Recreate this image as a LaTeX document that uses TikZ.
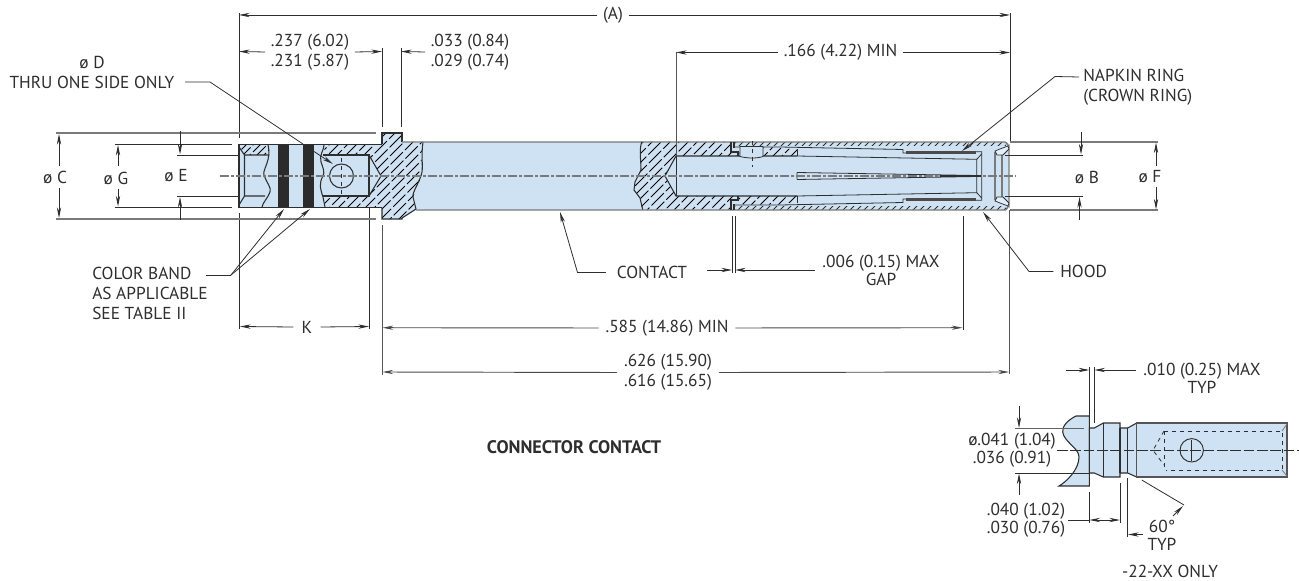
\documentclass[tikz,border=0pt]{standalone}
\usepackage{fontspec}
\setmainfont{PT Sans}
\usetikzlibrary{arrows.meta}
\definecolor{bodyblue}{HTML}{CFE2F3}
\definecolor{ink}{HTML}{2E2E2E}
\definecolor{midgray}{HTML}{7A7A7A}
\definecolor{bandc}{HTML}{2B2B2B}
\tikzset{
  txt/.style={inner sep=0pt,text=ink,align=center,font=\fontsize{13}{15}\selectfont},
  tight/.style={txt,font=\fontsize{13}{13.6}\selectfont},
  lft/.style={txt,align=left},
  thinl/.style={draw=ink,line width=0.6pt},
  grayl/.style={draw=midgray,line width=1.1pt},
  outl/.style={draw=ink,line width=0.8pt},
  finel/.style={draw=ink,line width=0.6pt},
  dim/.style={thinl,-{Stealth[length=8pt,width=3.2pt]}},
  graydim/.style={draw=midgray!60!black,line width=0.7pt,-{Stealth[length=8pt,width=3.2pt]}},
  hatchl/.style={draw=black,line width=0.62pt,dash pattern=on 13pt off 2.2pt},
  center/.style={draw=midgray,line width=1pt,dash pattern=on 7pt off 1.5pt on 2pt off 1.5pt},
}
\newcommand{\hatchrange}[4]{\begin{scope}\clip #1;\foreach \c in {#2,#3,...,#4}{\draw[hatchl,dash phase=\c pt] (\c,240)--({\c+120},120);}\end{scope}}
\begin{document}
\begin{tikzpicture}[x=0.75pt,y=-0.75pt]
\useasboundingbox (0,0) rectangle (1299,581);
% ---------- body fill
\fill[bodyblue] (239,144.5)--(382,144.5)--(382,133)--(402,133)--(402,142)--(1005,142)
  to[out=0,in=-90] (1009,146)--(1009,206) to[out=90,in=0] (1005,210)--(416,210)--(402,219)--(382,219)--(382,207.5)--(239,207.5)--cycle;
% ---------- hatching
\hatchrange{(239,144.5)--(268,144.5)--(270,155)--(244.5,155)--cycle}{130}{137}{200}
\hatchrange{(239,207.5)--(262,207.5)--(265,196)--(244.5,196)--cycle}{20}{27}{60}
\hatchrange{(324,144.5)--(382,144.5)--(382,133)--(402,133)--(402,142)--(423,142)--(421,170)--(422,176)--(416,190)--(413,197)--(416,209)--(402,219)--(382,219)--(382,207.5)--(325,207.5)--(323,196)--(369,196)--(381,176)--(369,155)--(325,155)--cycle}{180}{189}{420}
\hatchrange{(642,142)--(731,142)--(731,152)--(738,152)--(738,147.5)--(780,147.5)--(782,149)--(797,149)--(797,156)--(676,156)--(665,176)--(676,196)--(797,196)--(797,203)--(782,203)--(780,204.5)--(738,204.5)--(738,200)--(731,200)--(731,209.5)--(642,209.5)--(640,198)--(634,190)--(635,182)--(641,170)--(640,157)--cycle}{500}{509}{800}
\begin{scope}
\clip (734,142.2)--(1006,142.2)--(1006,146)--(734,146)--cycle (734,206)--(1006,206)--(1006,209.8)--(734,209.8)--cycle;
\foreach \c in {610,617,...,1010}{\draw[draw=ink,line width=0.7pt] (\c,240)--({\c+120},120);}
\end{scope}
% ---------- colour bands
\fill[bandc] (278,144.5) rectangle (289,207.5);
\fill[bandc] (303,144.5) rectangle (314,207.5);
% ---------- left section outlines
\draw[outl] (382,144.5)--(239,144.5)--(239,207.5)--(382,207.5);
\draw[outl] (382,144.5)--(382,133)--(402,133)--(402,142);
\draw[outl] (382,207.5)--(382,219)--(402,219)--(402,218)--(416,209);
\draw[outl] (244.5,155)--(269,155) (244.5,155)--(244.5,196)--(265,196) (239,147)--(244.5,155) (239,205)--(244.5,196);
\draw[outl] (268,145) .. controls (272,160) and (262,170) .. (264,175) .. controls (266,182) and (272,188) .. (270,192) .. controls (268,198) and (263,202) .. (262,207);
\draw[outl] (324,145) .. controls (324,150) and (319,155) .. (321,162) .. controls (323,168) and (325,172) .. (323,176) .. controls (319,183) and (320,188) .. (323,197) -- (325,207);
\draw[outl] (323,155)--(369,155)--(369,196)--(323,196);
\draw[outl] (369,155)--(381,176)--(369,196);
\draw[outl] (341.5,176) circle (12);
\draw[thinl,dashed] (341.5,158)--(341.5,194);
\draw[outl] (423,142) .. controls (421,155) and (423,165) .. (422,172) .. controls (420,182) and (412,192) .. (413,197) -- (416,209);
% ---------- main section outlines
\draw[grayl] (402,142)--(1005,142) to[out=0,in=-90] (1009,146)--(1009,206) to[out=90,in=0] (1005,210)--(416,210);
\draw[outl] (641.7,142) .. controls (639,150) and (641,160) .. (641,170) -- (635,182) -- (634,190) -- (640,198) -- (642.7,209.5);
\draw[outl] (797,156)--(676,156)--(665,176)--(676,196)--(797,196);
\draw[thinl] (676,156)--(676,196);
\draw[outl] (731,142)--(731,152)--(738,152)--(738,156);
\draw[outl] (731,209.5)--(731,200)--(738,200)--(738,196);
\draw[outl] (734,142)--(734,148) (734,204)--(734,210);
\draw[finel] (734,147)--(780,147)--(903,149.5)--(903,153)--(906,153) (976,151.7)--(981.7,151.7)--(981.7,200.3)--(976,200.3) (906,199)--(903,199)--(903,202.5)--(780,205)--(734,205);
\draw[finel] (797,156)--(976.7,159.3)--(981.7,154) (797,196)--(976.7,192.7)--(981.7,198) (976.7,159.3)--(976.7,192.7);
\draw[finel] (797,149)--(797,156) (797,196)--(797,203);
\filldraw[draw=ink,line width=0.6pt,fill=bodyblue] (740,146.5)--(763,146.5)--(763,156.5) .. controls (757,158.5) and (748,158.5) .. (740,156.5)--cycle;
\draw[thinl,dashed] (752,141)--(752,167);
\fill[bandc!85!white] (906,150.8) rectangle (976,154);
\fill[bandc!85!white] (906,198) rectangle (976,201.2);
\draw[finel] (797,172.5)--(977,175.5) (797,179.5)--(977,176.5) (797,172.5)--(797,179.5);
% hood end
\draw[draw=midgray,line width=0.9pt] (995,152)--(995,200) (1002,155)--(1002,197);
\filldraw[draw=ink,line width=0.55pt,fill=bodyblue!60!white] (995,151)--(1000,149)--(1008,146)--(1009,149)--(1003,155)--(997,155)--cycle;
\filldraw[draw=ink,line width=0.55pt,fill=bodyblue!60!white] (995,201)--(1000,203)--(1008,206)--(1009,203)--(1003,197)--(997,197)--cycle;
% ---------- centre line
\draw[center] (220,176)--(1016,176);
\draw[draw=ink,line width=0.9pt] (940,176)--(981,176);
% ---------- extension lines
\draw[thinl] (239,13)--(239,138) (239,213)--(239,329);
\draw[thinl] (1010,13)--(1010,142);
\draw[draw=midgray!70!black,line width=0.7pt] (1009.5,210)--(1009.5,374);
\draw[thinl] (382,48)--(382,127) (401,48)--(401,127);
\draw[draw=midgray!70!black,line width=0.7pt] (382,225)--(382,375);
\draw[thinl] (369.5,207)--(369.5,329);
\draw[draw=midgray!70!black,line width=0.7pt] (676,52)--(676,156);
\draw[thinl] (963,216)--(963,330);
\draw[thinl] (732,216)--(732,273) (735,216)--(735,273);
% ---------- left gauge lines
\draw[grayl] (56,133)--(376,133) (56,219)--(376,219);
\draw[thinl] (115,144.5)--(232,144.5) (115,207)--(232,207) (177,155)--(239,155) (177,196.5)--(239,196.5);
\draw[grayl] (1010,142)--(1158,142) (1010,210)--(1158,210);
\draw[thinl] (1005,155)--(1083,155) (1005,196.5)--(1083,196.5);
% ---------- labels
\node[txt] (tA) at (613,15) {(A)};
\node[txt] (t237) at (310,52) {.237 (6.02)\\.231 (5.87)};
\node[txt] (t033) at (470,52) {.033 (0.84)\\.029 (0.74)};
\node[txt] (t166) at (840.5,52.5) {.166 (4.22) MIN};
\node[txt] (tD) at (92,72) {ø D\\THRU ONE SIDE ONLY};
\node[lft,anchor=west] (tnap) at (1083,87) {NAPKIN RING\\(CROWN RING)};
\node[txt] (tC) at (55,177) {ø C};
\node[txt] (tG) at (116,178) {ø G};
\node[txt] (tE) at (176,176) {ø E};
\node[txt] (tB) at (1087,177) {ø B};
\node[txt] (tF) at (1150,177) {ø F};
\node[lft,anchor=north west] (tcb) at (92,267) {COLOR BAND\\AS APPLICABLE\\SEE TABLE II};
\node[txt] (tK) at (307,327) {K};
\node[txt] (tcontact) at (652,272.5) {CONTACT};
\node[tight] (tgap) at (881,270) {.006 (0.15) MAX\\GAP};
\node[txt,anchor=west] (thood) at (1060,271.5) {HOOD};
\node[txt] (t585) at (667,328) {.585 (14.86) MIN};
\node[txt] (t626) at (668,372.5) {.626 (15.90)\\.616 (15.65)};
\node[txt,font=\fontsize{13.6}{15}\selectfont\bfseries] (tcc) at (574,447) {CONNECTOR CONTACT};
% ---------- dimensions
\coordinate (aL) at (239,15); \coordinate (aR) at (1010,15);
\draw[dim] ([xshift=-4pt]tA.west)--(aL);
\draw[dim] ([xshift=4pt]tA.east)--(aR);
\coordinate (bL) at (239,51.5); \coordinate (bR) at (382,51.5); \coordinate (bS) at (401,51.5);
\draw[dim] ([xshift=-4pt]t237.west)--(bL);
\draw[dim] ([xshift=4pt]t237.east)--(bR);
\draw[dim] ([xshift=-4pt]t033.west)--(bS);
\coordinate (cL) at (676,52.5); \coordinate (cR) at (1010,52.5);
\draw[dim] ([xshift=-4pt]t166.west)--(cL);
\draw[dim] ([xshift=4pt]t166.east)--(cR);
% diameters
\draw[dim] (59,166)--(59,134);
\draw[dim] (59,188)--(59,218);
\draw[dim] (118,166)--(118,145);
\draw[dim] (118,189)--(118,206.5);
\draw[dim] (180,131)--(180,154.5);
\draw[dim] (180,220)--(180,197);
\draw[dim] (1081,132)--(1081,154.5);
\draw[dim] (1079.5,220)--(1079.5,197);
\draw[dim] (1156,166)--(1156,142.5);
\draw[dim] (1156,187)--(1156,209.5);
% K
\draw[dim] ([xshift=-6pt]tK.west)--(240,326.5);
\draw[dim] ([xshift=6pt]tK.east)--(369,326.5);
% lower dims
\draw[graydim] ([xshift=-5pt]t585.west)--(382.5,327.7);
\draw[graydim] ([xshift=5pt]t585.east)--(962.5,327.7);
\draw[graydim] ([xshift=-5pt]t626.west)--(382.5,372);
\draw[graydim] ([xshift=5pt]t626.east)--(1009,372);
\draw[dim] (707,270)--(732,270);
\draw[dim] (815,270)--(735,270);
% leaders
\coordinate (dLead) at (185,82);
\draw[draw=ink,line width=0.6pt] (dLead) -- (210,82)--(303,144);
\draw[dim] (314,151.5)--(333,164);
\draw[dim] ([xshift=-5pt]thood.west)--(1029,271.5)--(983,212);
\draw[dim] ([xshift=-8pt]tcontact.west)--(577.5,272.5)--(560,212);
\draw[dim] ([xshift=-3pt,yshift=7.5pt]tnap.west)--(1055,76.5)--(962,151);
\coordinate (cbLead) at (206,275);
\draw[thinl] (cbLead)--(231,275);
\draw[dim] (231,275)--(284,209);
\draw[dim] (231,275)--(310,209);
% ---------- detail part
\filldraw[outl,fill=bodyblue] (1089.3,416)--(1076,416) .. controls (1068,420) and (1062,426) .. (1062.7,432) .. controls (1064,442) and (1079,448) .. (1079,457) .. controls (1079,470) and (1066,482) .. (1059,486) -- (1089.3,486)--cycle;
\filldraw[outl,fill=bodyblue] (1089.3,428)--(1094.3,428)--(1103.3,423)--(1120,423)--(1120,428)--(1127.7,428)--(1136.7,423)--(1136.7,477)--(1127.7,473)--(1120,473)--(1120,477)--(1103.3,477)--(1094.3,473)--(1089.3,473)--cycle;
\draw[outl] (1103.3,423)--(1103.3,477) (1127.7,428)--(1127.7,473);
\draw[outl] (1120,428)--(1120,473);
\filldraw[draw=midgray!70!black,line width=1pt,fill=bodyblue] (1136.7,423)--(1287,423)--(1287,477)--(1136.7,477)--cycle;
\draw[thinl,dashed] (1164,431)--(1282,431)--(1282,470)--(1166,470);
\draw[thinl,dashed] (1164,431)--(1164,467);
\draw[thinl,dashed] (1164,431)--(1153,450.3)--(1164,465);
\draw[draw=midgray,line width=0.6pt] (1282,431)--(1287,424) (1282,470)--(1287,476);
\draw[draw=ink,line width=0.7pt] (1191.7,450.3) circle (11.7);
\draw[thinl] (1191.7,440)--(1191.7,461);
\draw[thinl,dash pattern=on 8pt off 2pt] (1057,450.3)--(1299,450.3);
% detail dims
\draw[thinl] (1089.3,367)--(1089.3,416) (1094.3,367)--(1094.3,423);
\draw[dim] (1066,370)--(1089.3,370);
\draw[dim] (1136,370)--(1094.3,370);
\node[tight] (t010) at (1202,378.5) {.010 (0.25) MAX\\TYP};
\draw[draw=midgray!80!black,line width=0.7pt] (1015,428.6)--(1084,428.6);
\draw[thinl] (1015,473)--(1089,473);
\draw[dim] (1019,406)--(1019,428);
\draw[dim] (1019,495)--(1019,473.5);
\node[tight] (t041) at (1012,450) {ø.041 (1.04)\\.036 (0.91)};
\draw[thinl] (1089.3,492)--(1089.3,523) (1120,483)--(1120,523);
\draw[thinl] (1068,520)--(1089.3,520);
\draw[dim] (1105,520)--(1120,520);
\draw[dim] (1105,520)--(1089.3,520);
\node[tight] (t040) at (1026,520) {.040 (1.02)\\.030 (0.76)};
\draw[thinl] (1127.7,478)--(1127.7,537);
\draw[dim] (1143,534.5)--(1128,534.5);
\draw[thinl] (1141.7,480)--(1184,505);
\draw[dim] (1173,516)--(1183,506);
\node[tight] (t60) at (1162,535) {60°\\TYP};
\node[txt] (t22) at (1170,571) {-22-XX ONLY};
\end{tikzpicture}
\end{document}
